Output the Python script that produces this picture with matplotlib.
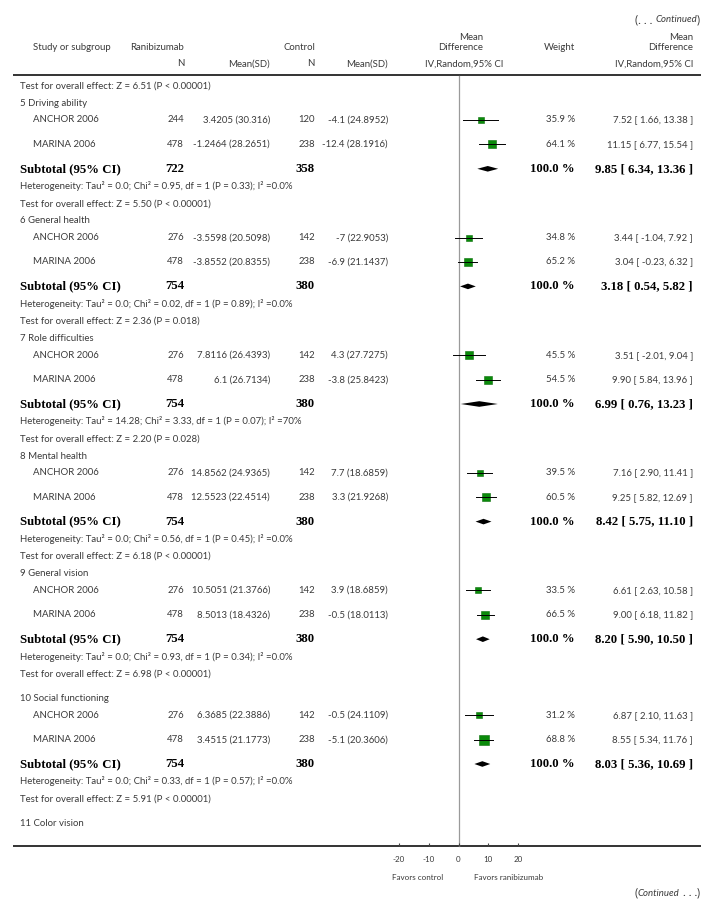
import matplotlib
matplotlib.use("Agg")
import matplotlib.pyplot as plt

plt.rcParams["font.family"] = ["Lato", "DejaVu Sans"]

# ---- data -------------------------------------------------------------
GROUPS = ["5 Driving ability", "6 General health", "7 Role difficulties",
          "8 Mental health", "9 General vision", "10 Social functioning"]
NEXT_GROUP = "11 Color vision"
PREV_TEST = "Z = 6.51 (P < 0.00001)"
STUDIES = ["ANCHOR 2006", "MARINA 2006"] * 6

RANI_N = [244, 478, 276, 478, 276, 478, 276, 478, 276, 478, 276, 478]
RANI_MSD = ["3.4205 (30.316)", "-1.2464 (28.2651)", "-3.5598 (20.5098)",
            "-3.8552 (20.8355)", "7.8116 (26.4393)", "6.1 (26.7134)",
            "14.8562 (24.9365)", "12.5523 (22.4514)", "10.5051 (21.3766)",
            "8.5013 (18.4326)", "6.3685 (22.3886)", "3.4515 (21.1773)"]
CTRL_N = [120, 238, 142, 238, 142, 238, 142, 238, 142, 238, 142, 238]
CTRL_MSD = ["-4.1 (24.8952)", "-12.4 (28.1916)", "-7 (22.9053)",
            "-6.9 (21.1437)", "4.3 (27.7275)", "-3.8 (25.8423)",
            "7.7 (18.6859)", "3.3 (21.9268)", "3.9 (18.6859)",
            "-0.5 (18.0113)", "-0.5 (24.1109)", "-5.1 (20.3606)"]
WEIGHT = [35.9, 64.1, 34.8, 65.2, 45.5, 54.5, 39.5, 60.5, 33.5, 66.5, 31.2, 68.8]
MD = [7.52, 11.15, 3.44, 3.04, 3.51, 9.90, 7.16, 9.25, 6.61, 9.00, 6.87, 8.55]
LO = [1.66, 6.77, -1.04, -0.23, -2.01, 5.84, 2.90, 5.82, 2.63, 6.18, 2.10, 5.34]
HI = [13.38, 15.54, 7.92, 6.32, 9.04, 13.96, 11.41, 12.69, 10.58, 11.82, 11.63, 11.76]

SUB_RANI_N = [722, 754, 754, 754, 754, 754]
SUB_CTRL_N = [358, 380, 380, 380, 380, 380]
SUB_MD = [9.85, 3.18, 6.99, 8.42, 8.20, 8.03]
SUB_LO = [6.34, 0.54, 0.76, 5.75, 5.90, 5.36]
SUB_HI = [13.36, 5.82, 13.23, 11.10, 10.50, 10.69]
HET = ["Tau² = 0.0; Chi² = 0.95, df = 1 (P = 0.33); I² =0.0%",
       "Tau² = 0.0; Chi² = 0.02, df = 1 (P = 0.89); I² =0.0%",
       "Tau² = 14.28; Chi² = 3.33, df = 1 (P = 0.07); I² =70%",
       "Tau² = 0.0; Chi² = 0.56, df = 1 (P = 0.45); I² =0.0%",
       "Tau² = 0.0; Chi² = 0.93, df = 1 (P = 0.34); I² =0.0%",
       "Tau² = 0.0; Chi² = 0.33, df = 1 (P = 0.57); I² =0.0%"]
ZTEST = ["Z = 5.50 (P < 0.00001)", "Z = 2.36 (P = 0.018)",
         "Z = 2.20 (P = 0.028)", "Z = 6.18 (P < 0.00001)",
         "Z = 6.98 (P < 0.00001)", "Z = 5.91 (P < 0.00001)"]
TICKS = [-20, -10, 0, 10, 20]

# ---- style / layout -----------------------------------------------------
W, H = 714, 911
ZERO_PX, PX_PER_UNIT = 458.5, 2.97
GREY = "#3a3a3a"
FS = 6.9
BOLD = dict(family=["Liberation Serif", "DejaVu Serif"], fontweight="bold",
            fontsize=9.2, color="black")
GREEN = "#0a8a0a"

fig = plt.figure(figsize=(W / 100, H / 100), dpi=100)
bg = fig.add_axes([0, 0, 1, 1])
bg.set_xlim(0, W)
bg.set_ylim(H, 0)
bg.axis("off")
fp = fig.add_axes([0, 0, 1, 1])
fp.set_xlim(-ZERO_PX / PX_PER_UNIT, (W - ZERO_PX) / PX_PER_UNIT)
fp.set_ylim(H, 0)
fp.axis("off")


def txt(x, y, s, ha="left", **kw):
    opts = dict(fontsize=FS, color=GREY)
    opts.update(kw)
    return bg.text(x, y, s, ha=ha, va="center", **opts)


# header
t1 = txt(700, 20, ")", ha="right", fontsize=8.5)
t2 = bg.annotate("Continued", xy=(0, 0.5), xycoords=t1, ha="right", va="center",
                 fontsize=FS, color=GREY, style="italic")
bg.annotate("(. . . ", xy=(0, 0.5), xycoords=t2, ha="right", va="center",
            fontsize=8.5, color=GREY)

txt(33, 48, "Study or subgroup")
txt(184, 48, "Ranibizumab", ha="right")
txt(315, 48, "Control", ha="right")
txt(184, 64, "N", ha="right")
txt(270, 64, "Mean(SD)", ha="right")
txt(315, 64, "N", ha="right")
txt(388, 64, "Mean(SD)", ha="right")
txt(483, 37, "Mean", ha="right")
txt(483, 48, "Difference", ha="right")
txt(464, 64, "IV,Random,95% CI", ha="center")
txt(575, 48, "Weight", ha="right")
txt(693, 37, "Mean", ha="right")
txt(693, 48, "Difference", ha="right")
txt(693, 64, "IV,Random,95% CI", ha="right")

bg.plot([13, 701], [74.7, 74.7], color="#333333", lw=1.4, solid_capstyle="butt")
bg.plot([13, 701], [846, 846], color="#333333", lw=1.4, solid_capstyle="butt")

# vertical no-effect line
fp.plot([0, 0], [75.5, 846], color="#9a9a9a", lw=0.9, zorder=1)

# rows
y = 86
txt(20, y, "Test for overall effect: " + PREV_TEST)
y += 17.3
for g, name in enumerate(GROUPS):
    if g == 5:
        y += 7.2
    txt(20, y, name)
    y += 16.7
    for i in (2 * g, 2 * g + 1):
        txt(33, y, STUDIES[i])
        txt(184, y, str(RANI_N[i]), ha="right")
        txt(270, y, RANI_MSD[i], ha="right")
        txt(315, y, str(CTRL_N[i]), ha="right")
        txt(388, y, CTRL_MSD[i], ha="right")
        txt(575, y, f"{WEIGHT[i]:.1f} %", ha="right")
        lo = f"{LO[i]:.2f}"
        txt(693, y, f"{MD[i]:.2f} [ {lo}, {HI[i]:.2f} ]", ha="right")
        side_pt = 1.1 * WEIGHT[i] ** 0.5 * 0.72
        fp.plot([MD[i]], [y], marker="s", ms=side_pt, mfc=GREEN,
                mec="#0b6e0b", mew=0.4, zorder=3)
        fp.plot([LO[i], HI[i]], [y, y], color="black", lw=0.7, zorder=4)
        y += 24.4
    bg.text(20, y, "Subtotal (95% CI)", ha="left", va="center", **BOLD)
    bg.text(184, y, str(SUB_RANI_N[g]), ha="right", va="center", **BOLD)
    bg.text(315, y, str(SUB_CTRL_N[g]), ha="right", va="center", **BOLD)
    bg.text(575, y, "100.0 %", ha="right", va="center", **BOLD)
    bg.text(693, y, f"{SUB_MD[g]:.2f} [ {SUB_LO[g]:.2f}, {SUB_HI[g]:.2f} ]",
            ha="right", va="center", **BOLD)
    fp.fill([SUB_LO[g], SUB_MD[g], SUB_HI[g], SUB_MD[g]],
            [y, y - 2.8, y, y + 2.8], color="black", lw=0, zorder=3)
    y += 17.5
    txt(20, y, "Heterogeneity: " + HET[g])
    y += 17.3
    txt(20, y, "Test for overall effect: " + ZTEST[g])
    y += 17.3
y += 7.2
txt(20, y, NEXT_GROUP)

# x axis ticks
fp.vlines(TICKS, 842.5, 846, color="#444444", lw=0.8)
for t in TICKS:
    fp.text(t, 860, str(t), ha="center", va="center", fontsize=5.8, color=GREY)
txt(443, 878, "Favors control", ha="right", fontsize=5.8)
txt(474, 878, "Favors ranibizumab", ha="left", fontsize=5.8)

t3 = txt(700, 893, ")", ha="right", fontsize=8.5)
t4 = bg.annotate(" . . .", xy=(0, 0.5), xycoords=t3, ha="right", va="center",
                 fontsize=8.5, color=GREY)
t5 = bg.annotate("Continued", xy=(0, 0.5), xycoords=t4, ha="right", va="center",
                 fontsize=FS, color=GREY, style="italic")
bg.annotate("(", xy=(0, 0.5), xycoords=t5, ha="right", va="center",
            fontsize=8.5, color=GREY)

fig.savefig("out.png", dpi=100, facecolor="white")
